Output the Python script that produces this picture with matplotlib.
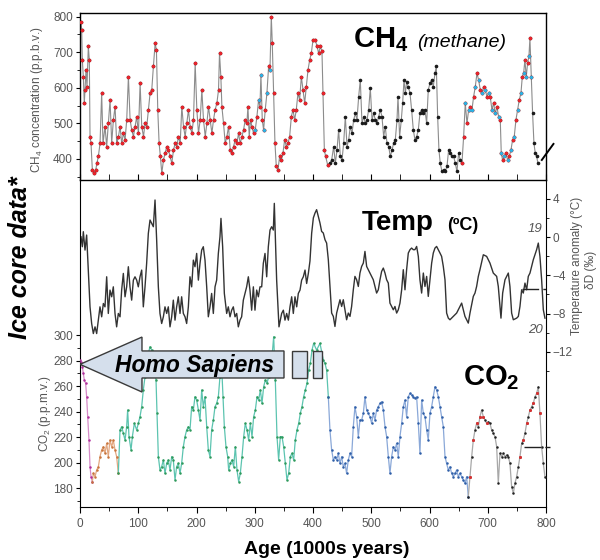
import numpy as np
import matplotlib.pyplot as plt
from matplotlib.patches import Polygon, Rectangle
from matplotlib.ticker import MultipleLocator, FixedLocator

plt.rcParams['font.family'] = ['Liberation Sans', 'DejaVu Sans']
plt.rcParams['mathtext.default'] = 'regular'

# ---- CH4 (ppbv) vs age (kyr BP) ----
ch4_age = [
    1.7, 2.9, 4.0, 5.7, 7.4, 8.6, 10.3, 12.0, 14.3, 16.0,
    17.2, 18.9, 21.2, 24.0, 27.0, 29.0, 31.5, 34.4, 37.2, 39.5,
    43.0, 45.8, 48.7, 51.6, 54.4, 57.3, 60.2, 63.0, 66.0, 68.8,
    71.6, 74.5, 77.4, 80.2, 83.1, 86.0, 88.8, 91.7, 94.6, 97.4,
    100.3, 103.2, 106.0, 109.0, 111.7, 114.6, 117.5, 120.3, 123.2, 126.0,
    129.0, 131.2, 133.5, 135.8, 138.0, 140.4, 143.3, 146.0, 149.0, 151.9,
    154.7, 157.6, 160.5, 163.3, 166.2, 169.0, 172.0, 174.8, 177.7, 180.5,
    183.4, 186.2, 189.1, 192.0, 194.8, 197.7, 200.6, 203.4, 206.3, 209.2,
    212.0, 215.0, 217.8, 220.6, 223.5, 226.4, 229.2, 232.0, 235.0, 237.8,
    239.5, 241.8, 243.6, 246.4, 249.3, 252.1, 255.0, 257.9, 260.7, 263.6,
    266.5, 269.3, 272.2, 275.0, 278.0, 280.8, 283.7, 286.5, 288.3, 290.5,
    292.8, 295.1, 298.0, 300.9, 303.7, 306.6, 308.9, 310.6, 312.9, 315.2,
    318.0, 320.9, 323.8, 326.1, 328.4, 330.1, 332.4, 334.7, 337.0, 339.8,
    342.7, 345.6, 348.4, 351.3, 354.2, 357.0, 359.9, 362.8, 365.6, 368.5,
    371.3, 374.2, 377.0, 380.0, 382.8, 385.7, 388.5, 391.4, 394.3, 397.1,
    400.0, 404.0, 406.9, 409.7, 412.6, 415.4, 417.2, 419.5, 421.7, 425.2,
    428.6, 432.0, 435.5, 438.3, 441.2, 444.0, 446.9, 449.8, 452.6, 455.5,
    458.4, 461.2, 464.0, 467.0, 469.8, 472.7, 475.5, 478.4, 481.2, 484.1,
    487.0, 489.8, 492.7, 495.5, 498.4, 501.3, 504.1, 507.0, 509.8, 512.7,
    515.6, 518.4, 521.3, 524.1, 527.0, 529.9, 532.7, 535.6, 538.4, 541.3,
    544.2, 545.9, 548.7, 551.6, 553.9, 556.2, 558.5, 560.8, 563.6, 566.5,
    569.3, 572.2, 575.0, 577.9, 580.8, 583.6, 586.5, 589.4, 592.2, 595.1,
    597.9, 600.8, 603.7, 606.5, 609.4, 611.7, 614.0, 616.2, 618.5, 621.4,
    624.3, 627.1, 630.0, 632.8, 635.7, 638.6, 641.4, 644.3, 647.1, 650.0,
    652.9, 655.7, 658.6, 661.4, 664.3, 667.2, 670.0, 672.9, 675.7, 678.6,
    681.5, 684.3, 687.2, 690.0, 692.9, 695.8, 698.6, 701.5, 704.3, 707.2,
    710.0, 712.9, 715.8, 718.6, 721.5, 723.2, 725.5, 728.4, 731.2, 734.1,
    736.9, 739.8, 742.7, 745.5, 748.4, 751.2, 754.1, 757.0, 759.3, 761.6,
    763.8, 766.1, 768.4, 770.7, 772.4, 774.7, 777.0, 779.3, 781.6, 783.9,
    786.2,
]
ch4_ppb = [
    786, 763, 678, 631, 557, 594, 650, 603, 716, 678,
    463, 444, 369, 360, 369, 388, 407, 444, 585, 444,
    491, 435, 500, 566, 444, 510, 547, 444, 463, 491,
    444, 472, 454, 510, 631, 510, 482, 463, 491, 519,
    472, 613, 491, 463, 500, 491, 538, 585, 594, 660,
    725, 706, 538, 444, 407, 360, 397, 416, 435, 425,
    407, 388, 425, 444, 435, 463, 444, 547, 491, 463,
    500, 538, 491, 472, 510, 669, 538, 472, 510, 594,
    510, 463, 500, 547, 510, 472, 510, 538, 557, 594,
    697, 631, 547, 500, 444, 463, 491, 425, 416, 435,
    454, 444, 472, 444, 463, 482, 510, 500, 547, 463,
    510, 491, 472, 482, 519, 566, 547, 636, 510, 482,
    538, 585, 660, 650, 800, 725, 585, 444, 379, 369,
    407, 397, 416, 454, 435, 444, 463, 519, 538, 510,
    538, 585, 566, 631, 594, 557, 603, 650, 678, 697,
    734, 734, 716, 697, 716, 702, 585, 425, 407, 383,
    388, 397, 435, 388, 425, 482, 407, 397, 444, 519,
    435, 454, 491, 472, 510, 528, 510, 575, 622, 500,
    519, 500, 510, 538, 599, 510, 528, 510, 500, 519,
    538, 519, 463, 491, 444, 435, 407, 425, 444, 454,
    510, 575, 463, 510, 557, 622, 585, 617, 603, 585,
    538, 482, 454, 463, 482, 528, 538, 528, 538, 500,
    594, 613, 622, 603, 641, 660, 519, 425, 388, 365,
    369, 365, 379, 425, 416, 407, 407, 388, 365, 416,
    397, 388, 463, 557, 500, 538, 547, 538, 575, 603,
    641, 622, 594, 585, 603, 594, 575, 585, 575, 538,
    557, 528, 547, 519, 510, 416, 397, 407, 416, 397,
    407, 425, 454, 463, 510, 538, 566, 585, 631, 641,
    678, 631, 669, 688, 739, 631, 528, 444, 416, 407,
    388,
]

# ---- temperature anomaly (deg C) ----
temp_age = [
    1.7, 4.0, 5.7, 8.6, 11.4, 14.3, 17.2, 20.0, 22.9, 25.8,
    28.6, 31.5, 34.3, 37.2, 40.1, 42.9, 45.8, 48.6, 51.5, 54.4,
    57.2, 60.1, 62.9, 65.8, 68.7, 71.5, 74.4, 77.3, 80.1, 83.0,
    85.8, 88.7, 91.6, 94.4, 97.3, 100.1, 103.0, 105.9, 108.7, 111.6,
    114.4, 117.3, 120.2, 123.0, 125.9, 128.8, 131.6, 134.5, 137.3, 140.2,
    143.1, 145.9, 148.8, 151.6, 154.5, 157.4, 160.2, 163.1, 165.9, 168.8,
    171.7, 174.5, 177.4, 180.3, 183.1, 186.0, 188.8, 191.7, 194.6, 197.4,
    200.3, 203.2, 206.0, 208.9, 211.7, 214.6, 217.5, 220.3, 223.2, 226.0,
    228.9, 231.8, 234.6, 237.5, 240.3, 242.0, 244.9, 247.8, 251.8, 254.6,
    257.5, 260.4, 263.2, 266.1, 269.0, 271.8, 274.7, 277.5, 280.4, 283.3,
    286.1, 289.0, 291.8, 294.7, 297.6, 300.4, 303.3, 306.2, 309.0, 311.9,
    314.7, 317.6, 320.5, 323.3, 326.2, 329.0, 331.9, 333.6, 337.6, 341.6,
    346.2, 349.1, 351.9, 354.8, 357.7, 360.5, 363.4, 366.2, 369.1, 372.0,
    374.8, 377.7, 380.5, 383.4, 386.3, 389.1, 392.0, 394.8, 397.7, 400.6,
    403.4, 406.2, 409.1, 412.0, 414.8, 417.7, 420.6, 423.4, 426.3, 429.1,
    432.0, 434.9, 437.7, 440.6, 443.4, 446.3, 449.2, 452.0, 454.9, 457.7,
    460.6, 463.5, 466.3, 469.2, 472.0, 474.9, 477.8, 480.6, 483.5, 486.4,
    489.2, 492.1, 494.9, 497.8, 500.7, 503.5, 506.4, 509.2, 512.1, 515.0,
    517.8, 520.7, 523.6, 526.4, 529.3, 532.1, 535.0, 537.9, 540.7, 543.6,
    546.4, 549.3, 552.2, 555.0, 557.9, 560.7, 563.6, 566.5, 569.3, 572.2,
    575.0, 577.9, 580.8, 583.6, 586.5, 589.4, 592.2, 595.1, 597.9, 600.8,
    603.7, 606.5, 609.4, 612.2, 615.1, 618.0, 620.8, 623.7, 626.6, 629.4,
    632.3, 635.1, 640.9, 646.6, 652.3, 655.2, 658.0, 660.9, 666.6, 669.5,
    675.2, 678.1, 680.9, 683.8, 686.6, 692.4, 698.1, 703.8, 709.5, 715.3,
    718.1, 721.0, 722.7, 725.6, 729.6, 732.4, 735.3, 738.1, 741.0, 743.9,
    749.6, 752.5, 755.3, 758.2, 761.0, 763.9, 766.8, 769.6, 772.5, 775.3,
    778.2, 783.9, 786.8, 789.6, 792.5, 795.4, 798.2,
]
temp_anom = [
    0.03, -1.01, 0.56, -1.36, 0.21, -3.45, -7.29, -9.03, -10.08, -9.38,
    -10.08, -8.68, -7.29, -8.33, -6.94, -7.29, -4.15, -7.98, -5.54, -6.24,
    -5.20, -7.98, -9.38, -7.98, -8.33, -5.54, -3.80, -6.24, -5.20, -3.10,
    -5.20, -6.59, -4.50, -4.15, -4.50, -5.20, -4.15, -3.45, -7.29, -5.20,
    -2.75, 0.38, 1.78, 1.43, 1.08, 3.87, -0.31, -5.20, -7.98, -9.03,
    -8.33, -7.29, -7.98, -7.29, -9.38, -8.33, -6.59, -8.68, -7.29, -6.24,
    -7.98, -6.24, -7.98, -8.33, -9.03, -7.29, -4.15, -5.20, -2.41, -3.10,
    -1.71, -4.50, -2.75, -1.36, -1.01, -2.41, -5.20, -8.33, -7.29, -5.89,
    -7.98, -5.20, -4.50, -1.71, 0.03, 1.95, -1.01, -5.89, -7.98, -7.29,
    -8.33, -7.64, -7.29, -8.33, -7.98, -9.38, -8.68, -8.33, -6.59, -5.89,
    -5.20, -4.15, -5.54, -7.64, -5.20, -7.64, -5.54, -6.24, -5.20, -5.20,
    -2.75, -1.71, -4.15, -1.01, 0.73, 1.08, 0.73, 3.52, -4.50, -9.38,
    -7.98, -7.64, -8.68, -7.98, -8.68, -7.29, -6.24, -7.98, -6.24, -7.29,
    -5.89, -5.54, -4.50, -4.15, -3.45, -4.85, -3.80, -2.50, 0.40, 2.00,
    2.50, 2.86, 2.16, 1.46, 0.59, 0.42, -0.28, -0.63, -2.37, -5.16,
    -7.94, -8.29, -9.34, -7.94, -7.25, -6.55, -7.25, -6.55, -7.60, -8.64,
    -7.94, -8.29, -7.25, -5.51, -4.11, -4.46, -5.16, -3.76, -3.07, -2.72,
    -1.50, -3.07, -3.41, -3.76, -4.11, -4.46, -5.16, -5.85, -5.51, -4.46,
    -3.59, -3.24, -3.76, -4.46, -4.81, -6.90, -7.25, -7.60, -7.25, -7.94,
    -7.60, -6.90, -5.51, -3.41, -5.51, -3.41, -1.67, -1.32, -1.15, -1.32,
    -1.32, -0.98, -2.02, -4.46, -5.85, -3.76, -5.16, -4.11, -6.20, -4.46,
    -2.72, -1.67, -1.15, -0.98, -1.32, -1.67, -2.02, -3.07, -4.46, -7.94,
    -8.47, -8.64, -8.29, -7.94, -7.25, -6.90, -7.60, -8.29, -8.99, -7.94,
    -6.20, -5.85, -5.16, -4.11, -3.41, -1.85, -2.02, -2.72, -3.76, -4.11,
    -5.16, -7.25, -8.47, -5.85, -4.46, -4.11, -3.76, -5.16, -7.94, -8.64,
    -8.47, -8.29, -7.25, -5.51, -5.85, -4.81, -5.51, -4.11, -3.76, -3.07,
    -2.37, -1.32, -0.63, -2.02, -4.46, -7.60, -8.47,
]

# ---- CO2 (ppmv) ----
co2_age = [
    0.0, 1.7, 4.0, 5.7, 7.4, 9.7, 11.4, 13.2, 15.4, 17.2,
    18.9, 21.2, 22.9, 25.8, 28.6, 31.5, 34.3, 37.2, 40.1, 42.9,
    45.8, 48.6, 51.5, 54.4, 57.2, 60.1, 62.9, 65.8, 68.7, 71.5,
    74.4, 77.3, 80.1, 81.8, 84.1, 87.6, 89.9, 93.3, 97.3, 100.1,
    103.0, 105.9, 108.7, 111.6, 114.4, 117.3, 120.2, 123.0, 125.9, 128.8,
    130.5, 132.2, 134.5, 137.3, 140.2, 143.1, 145.9, 148.8, 151.6, 154.5,
    157.4, 160.2, 163.1, 165.9, 168.8, 171.7, 174.5, 177.4, 180.3, 183.1,
    186.0, 188.8, 191.7, 194.6, 197.4, 200.3, 203.2, 206.0, 208.9, 211.7,
    214.6, 217.5, 220.3, 223.2, 226.0, 228.9, 231.8, 234.6, 237.5, 240.3,
    243.2, 245.5, 247.8, 250.6, 253.5, 255.2, 258.1, 260.9, 263.8, 266.7,
    269.5, 272.4, 275.2, 278.1, 281.0, 283.8, 286.7, 289.5, 292.4, 295.3,
    298.1, 301.0, 303.9, 306.7, 309.6, 312.4, 315.3, 318.2, 321.0, 323.9,
    326.7, 329.6, 332.5, 335.3, 338.2, 341.0, 343.9, 346.8, 349.6, 352.5,
    355.3, 358.2, 361.1, 363.9, 366.8, 369.6, 372.5, 375.4, 378.2, 381.1,
    383.9, 386.8, 389.7, 392.5, 395.4, 398.3, 401.1, 406.2, 412.0, 417.7,
    420.6, 423.4, 426.3, 429.1, 432.0, 434.9, 437.7, 440.6, 443.4, 446.3,
    449.2, 452.0, 454.9, 457.7, 460.6, 463.5, 466.3, 469.2, 472.0, 474.9,
    477.8, 480.6, 483.5, 486.4, 489.2, 492.1, 494.9, 497.8, 500.7, 503.5,
    506.4, 509.2, 512.1, 515.0, 517.8, 520.7, 523.6, 526.4, 529.3, 532.1,
    535.0, 537.9, 540.7, 543.6, 546.4, 549.3, 552.2, 555.0, 557.9, 560.7,
    563.6, 566.5, 569.3, 572.2, 575.0, 577.9, 580.8, 583.6, 586.5, 589.4,
    592.2, 595.1, 597.9, 600.8, 603.7, 606.5, 609.4, 612.2, 615.1, 618.0,
    620.8, 623.7, 626.6, 629.4, 632.3, 635.1, 638.0, 640.9, 643.7, 646.6,
    649.5, 652.3, 655.2, 658.0, 660.9, 663.8, 666.6, 669.5, 672.4, 675.2,
    678.1, 680.9, 683.8, 686.6, 689.5, 692.4, 695.2, 698.1, 701.0, 703.8,
    706.7, 709.5, 712.4, 715.3, 718.1, 721.0, 723.9, 726.7, 729.6, 732.4,
    735.3, 738.1, 741.0, 743.9, 746.7, 749.6, 752.5, 755.3, 758.2, 761.0,
    763.9, 766.8, 769.6, 772.5, 775.3, 778.2, 781.1, 783.9, 786.8, 789.6,
    792.5, 795.4, 798.2,
]
co2_ppm = [
    280.4, 279.1, 275.2, 269.9, 264.7, 262.1, 251.6, 235.9, 217.6, 196.7,
    188.9, 185.0, 191.5, 188.9, 194.1, 196.7, 204.6, 209.8, 212.4, 207.2,
    215.0, 204.6, 217.6, 212.4, 217.6, 209.8, 204.6, 191.5, 225.5, 228.1,
    222.9, 217.6, 228.1, 241.2, 220.3, 209.8, 220.3, 230.7, 225.5, 230.7,
    235.9, 243.8, 256.9, 267.3, 275.2, 285.6, 290.8, 288.2, 280.4, 272.5,
    264.7, 238.6, 204.6, 194.1, 196.7, 202.0, 191.5, 199.3, 202.0, 194.1,
    204.6, 202.0, 186.3, 196.7, 199.3, 191.5, 199.3, 212.4, 220.3, 225.5,
    228.1, 225.5, 243.8, 241.2, 251.6, 249.0, 241.2, 233.3, 256.9, 243.8,
    251.6, 228.1, 209.8, 204.6, 225.5, 233.3, 243.8, 246.4, 251.6, 267.3,
    275.2, 251.6, 228.1, 212.4, 204.6, 194.1, 199.3, 202.0, 196.7, 212.4,
    194.1, 185.0, 191.5, 204.6, 220.3, 230.7, 225.5, 217.6, 230.7, 220.3,
    235.9, 241.2, 251.6, 249.0, 256.9, 246.4, 259.5, 264.7, 262.1, 267.3,
    277.8, 283.0, 298.7, 264.7, 220.3, 202.0, 220.3, 220.3, 212.4, 199.3,
    186.3, 191.5, 204.6, 207.2, 202.0, 217.6, 225.5, 230.7, 238.6, 243.8,
    251.6, 256.9, 262.1, 272.5, 277.8, 288.2, 293.5, 288.2, 293.5, 280.4,
    277.8, 272.5, 251.6, 225.5, 209.8, 202.0, 204.6, 202.0, 207.2, 199.3,
    204.6, 196.7, 199.3, 191.5, 202.0, 207.2, 204.6, 228.1, 243.8, 235.9,
    220.3, 233.3, 233.3, 238.6, 251.6, 241.2, 238.6, 235.9, 230.7, 238.6,
    233.3, 241.2, 243.8, 246.4, 247.7, 241.2, 228.1, 220.3, 204.6, 191.5,
    204.6, 212.4, 209.8, 215.0, 204.6, 220.3, 230.7, 243.8, 249.0, 235.9,
    251.6, 254.2, 252.9, 251.6, 250.3, 251.6, 230.7, 207.2, 249.0, 238.6,
    235.9, 225.5, 217.6, 238.6, 243.8, 251.6, 259.5, 256.9, 251.6, 243.8,
    235.9, 228.1, 204.6, 199.3, 194.1, 196.7, 191.5, 188.9, 191.5, 194.1,
    188.9, 191.5, 188.9, 186.3, 183.7, 188.9, 173.2, 188.9, 204.6, 217.6,
    225.5, 230.7, 228.1, 235.9, 241.2, 235.9, 233.3, 230.7, 232.0, 230.7,
    225.5, 222.9, 220.3, 212.4, 183.7, 207.2, 204.6, 207.2, 204.6, 206.0,
    204.6, 199.3, 181.0, 175.8, 183.7, 188.9, 196.7, 204.6, 215.0, 217.6,
    222.9, 230.7, 235.9, 241.2, 243.8, 246.4, 251.6, 254.2, 259.5, 238.6,
    212.4, 199.3, 188.9,
]

# CO2 record pieces and their colours (age limits in kyr)
co2_pieces = [(0, 21.2), (21.2, 65.8), (65.8, 426.3), (426.3, 666.6), (666.6, 800)]
co2_dot_colors = ['#b0309c', '#c8743c', '#2f9a5c', '#2f5fa8', '#222222']
co2_line_colors = ['#d68cc8', '#e2a882', '#5cc4b0', '#8aa8d8', '#a8a8a8']

GRAY = '#555555'

ch4_age = np.array(ch4_age)
ch4_ppb = np.array(ch4_ppb)
co2_age = np.array(co2_age)
co2_ppm = np.array(co2_ppm)

fig = plt.figure(figsize=(6, 5.6), dpi=100)
ax_ch4 = fig.add_axes([80 / 600, 1 - 180 / 560, 466 / 600, 167 / 560])
ax_co2 = fig.add_axes([80 / 600, 1 - 507 / 560, 466 / 600, 327 / 560])
ax_t = ax_co2.twinx()
ax_co2.set_zorder(3)
ax_co2.patch.set_visible(False)
ax_t.set_zorder(2)

# ---- CH4 panel ----
ax_ch4.plot(ch4_age, ch4_ppb, color='#8c8c8c', lw=0.8, zorder=2)
ax_ch4.plot(ch4_age, ch4_ppb, ls='none', marker='o', ms=1.6, color='#1a1a1a', zorder=3)
red = (ch4_age <= 426) | ((ch4_age >= 655) & (ch4_age <= 775))
ax_ch4.plot(ch4_age[red], ch4_ppb[red], ls='none', marker='o', ms=2.6,
            color='#e8232b', mec='none', zorder=4)
cyan = ((ch4_age >= 300) & (ch4_age <= 330)) | ((ch4_age >= 660) & (ch4_age <= 775))
ax_ch4.plot(ch4_age[cyan][::2], ch4_ppb[cyan][::2], ls='none', marker='o', ms=2.4,
            color='#27b4e6', mec='none', zorder=5)
ax_ch4.set_xlim(0, 800)
ax_ch4.set_ylim(341, 810)
ax_ch4.yaxis.set_major_locator(FixedLocator([400, 500, 600, 700, 800]))
ax_ch4.yaxis.set_minor_locator(FixedLocator([350, 450, 550, 650, 750]))
ax_ch4.xaxis.set_major_locator(MultipleLocator(100))
ax_ch4.xaxis.set_minor_locator(MultipleLocator(50))
ax_ch4.tick_params(axis='x', which='both', direction='in', labelbottom=False, length=4)
ax_ch4.tick_params(axis='y', which='major', direction='out', length=3,
                   labelsize=8.5, labelcolor=GRAY, pad=2)
ax_ch4.tick_params(axis='y', which='minor', direction='out', length=2)
for s in ax_ch4.spines.values():
    s.set_linewidth(1.0)

# break mark at lower right
ax_ch4.plot([0.991, 1.016], [0.12, 0.216], transform=ax_ch4.transAxes,
            color='k', lw=1.4, clip_on=False, zorder=6)

ax_ch4.text(0.586, 0.796, r'CH$_4$', transform=ax_ch4.transAxes, fontsize=21,
            fontweight='bold', va='baseline', ha='left')
ax_ch4.text(0.723, 0.796, '(methane)', transform=ax_ch4.transAxes, fontsize=14,
            style='italic', va='baseline', ha='left')

# ---- temperature ----
ax_t.plot(temp_age, temp_anom, color='#333333', lw=1.0)
ax_t.set_ylim(-28.2, 5.96)
ax_t.yaxis.set_major_locator(FixedLocator([-12, -8, -4, 0, 4]))
ax_t.yaxis.set_minor_locator(FixedLocator([-14, -10, -6, -2, 2]))
ax_t.tick_params(axis='y', which='major', direction='out', length=3,
                 labelsize=8.5, labelcolor=GRAY, pad=2)
ax_t.tick_params(axis='y', which='minor', direction='out', length=2)
for side in ['left', 'top', 'bottom']:
    ax_t.spines[side].set_visible(False)
ax_t.axhline(-5.4, xmin=0.948, xmax=1.0, color='#222222', lw=1.0, dashes=(12, 3))
ax_t.text(0.605, 0.847, 'Temp', transform=ax_t.transAxes, fontsize=20,
          fontweight='bold', va='baseline', ha='left')
ax_t.text(0.787, 0.847, '(ºC)', transform=ax_t.transAxes, fontsize=13,
          fontweight='bold', va='baseline', ha='left')
ax_t.text(0.993, 0.850, '19', transform=ax_t.transAxes, fontsize=9.5,
          style='italic', color=GRAY, ha='right', va='center')
ax_t.text(0.993, 0.541, '20', transform=ax_t.transAxes, fontsize=9.5,
          style='italic', color=GRAY, ha='right', va='center')

# ---- CO2 ----
for (a0, a1), dc, lc in zip(co2_pieces, co2_dot_colors, co2_line_colors):
    m = (co2_age >= a0) & (co2_age <= a1)
    ax_co2.plot(co2_age[m], co2_ppm[m], color=lc, lw=0.9, zorder=2)
    ax_co2.plot(co2_age[m], co2_ppm[m], ls='none', marker='o', ms=1.8,
                color=dc, mec='none', zorder=3)
red_co2 = ((co2_age >= 668) & (co2_age <= 700)) | ((co2_age >= 752) & (co2_age <= 792))
ax_co2.plot(co2_age[red_co2][::2], co2_ppm[red_co2][::2], ls='none', marker='o',
            ms=2.2, color='#d83030', mec='none', zorder=4)
ax_co2.axhline(212, xmin=0.952, xmax=1.008, color='#222222', lw=1.0,
               dashes=(12, 3), clip_on=False)

ax_co2.set_xlim(0, 800)
ax_co2.set_ylim(165.1, 421.6)
ax_co2.yaxis.set_major_locator(FixedLocator([180, 200, 220, 240, 260, 280, 300]))
ax_co2.yaxis.set_minor_locator(FixedLocator([170, 190, 210, 230, 250, 270, 290]))
ax_co2.xaxis.set_major_locator(MultipleLocator(100))
ax_co2.xaxis.set_minor_locator(MultipleLocator(50))
ax_co2.tick_params(axis='y', which='major', direction='out', length=3,
                   labelsize=8.5, labelcolor=GRAY, pad=2)
ax_co2.tick_params(axis='y', which='minor', direction='out', length=2)
ax_co2.tick_params(axis='x', which='major', direction='out', length=4,
                   labelsize=8.5, labelcolor=GRAY, pad=4)
ax_co2.tick_params(axis='x', which='minor', direction='out', length=3)
ax_co2.spines['top'].set_visible(False)
ax_co2.spines['right'].set_visible(False)
ax_t.set_xlim(0, 800)

ax_co2.text(0.822, 0.373, r'CO$_2$', transform=ax_co2.transAxes, fontsize=21,
            fontweight='bold', va='baseline', ha='left', zorder=10)

# Homo sapiens arrow (annotation shape in data coords of the CO2 axis)
arrow = Polygon([(0, 277), (106.4, 298.4), (106.4, 287.5), (350.2, 287.5),
                 (350.2, 266.3), (106.4, 266.3), (106.4, 255.3)], closed=True,
                facecolor='#d5dfec', edgecolor='#3a3a3a', lw=1.0, zorder=8)
ax_co2.add_patch(arrow)
for x0, w in [(364.0, 25.7), (400.0, 15.5)]:
    ax_co2.add_patch(Rectangle((x0, 266.3), w, 21.2, facecolor='#d5dfec',
                               edgecolor='#3a3a3a', lw=1.0, zorder=8))
ax_co2.text(0.075, 0.413, 'Homo Sapiens', transform=ax_co2.transAxes, fontsize=16.5,
            fontweight='bold', style='italic', va='baseline', ha='left', zorder=9)

# ---- figure-level labels ----
fig.text(37 / 600, 1 - 100 / 560, r'CH$_4$ concentration (p.p.b.v.)', rotation=90,
         fontsize=8.5, color=GRAY, ha='center', va='center')
fig.text(45 / 600, 1 - 414 / 560, r'CO$_2$ (p.p.m.v.)', rotation=90,
         fontsize=8.5, color=GRAY, ha='center', va='center')
fig.text(577 / 600, 1 - 266 / 560, 'Temperature anomaly (°C)', rotation=90,
         fontsize=8.5, color=GRAY, ha='center', va='center')
fig.text(591 / 600, 1 - 270 / 560, 'δD (‰)', rotation=90,
         fontsize=8.5, color=GRAY, ha='center', va='center')
fig.text(20 / 600, 1 - 258 / 560, 'Ice core data*', rotation=90, fontsize=18,
         fontweight='bold', style='italic', ha='center', va='center')
fig.text(327 / 600, 1 - 549 / 560, 'Age (1000s years)', fontsize=14,
         fontweight='bold', ha='center', va='center')

fig.savefig('out.png', dpi=100)
